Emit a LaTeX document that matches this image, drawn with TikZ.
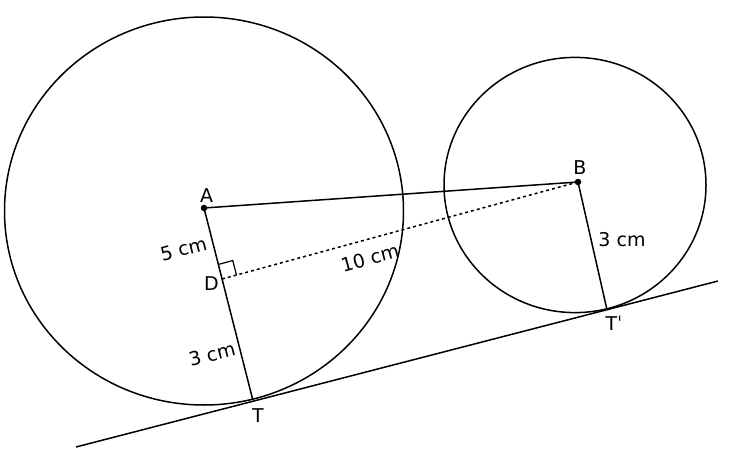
\documentclass[tikz,border=0pt]{standalone}
\usepackage{fontspec}
\setmainfont{DejaVu Sans}
\usetikzlibrary{calc}
\begin{document}
\begin{tikzpicture}[x=1pt,y=-1pt,line width=1.5pt,
  lbl/.style={font=\fontsize{19}{22}\selectfont,inner sep=0pt},
  dot/.style={circle,fill=black,inner sep=0pt,minimum size=6.5pt},
  dotline/.style={dash pattern=on 3pt off 3pt}]
\useasboundingbox (0,0) rectangle (731,455);
\coordinate (CA) at (204,211);
\coordinate (CB) at (575,185);
\coordinate (T) at (252.7,399.5);
\coordinate (Tp) at (606.7,308.5);
\coordinate (L1) at (76,447);
\coordinate (L2) at (718,281);
\coordinate (D) at (222,279);
\node[dot] (A) at (204,208) {};
\node[dot] (B) at (578,182) {};
\draw (CA) ellipse[x radius=199.5pt,y radius=194pt];
\draw (CB) ellipse[x radius=131pt,y radius=127.6pt];
\draw (L1) -- (L2);
\draw (A.center) -- (B.center);
\draw (A.center) -- (T);
\draw (B.center) -- (Tp);
\draw[dotline] (D) -- (B.center);
\coordinate (DA) at ($(D)!15pt!(A)$);
\coordinate (DB) at ($(D)!15pt!(B)$);
\draw[line width=1.2pt] (DA) -- ($(DA)+(DB)-(D)$) -- (DB);
\node[lbl] (lA) at (206.5,195.5) {A};
\node[lbl] (lB) at (580,168) {B};
\node[lbl] (lD) at (211.5,284) {D};
\node[lbl] (lT) at (258,416) {T};
\node[lbl] (lTp) at (614,323) {T\symbol{"02C8}};
\node[lbl,rotate=14] (l5) at (183.5,249) {5 cm};
\node[lbl,rotate=14] (l3a) at (212,354) {3 cm};
\node[lbl] (l3b) at (622,240) {3 cm};
\node[lbl,rotate=15] (l10) at (370,258) {10 cm};
\end{tikzpicture}
\end{document}
